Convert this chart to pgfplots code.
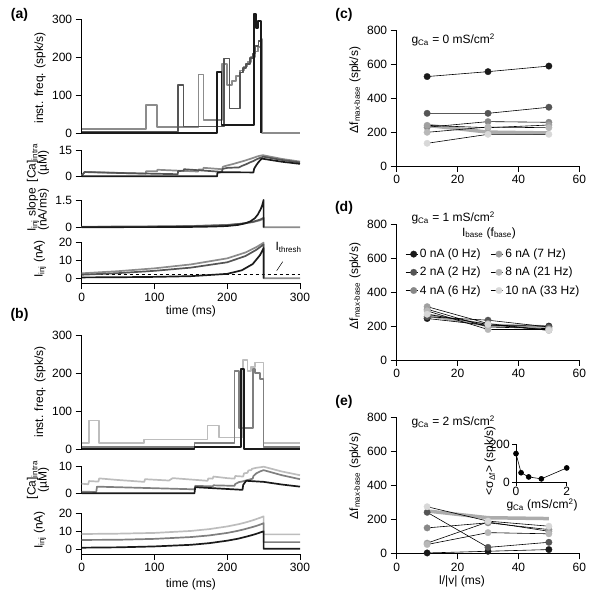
\documentclass[border=0pt]{standalone}
\usepackage{fontspec}
\setmainfont{Liberation Sans}
\usepackage{pgfplots}
\pgfplotsset{compat=1.18}
\definecolor{cK}{HTML}{1A1A1A}
\definecolor{cD}{HTML}{555555}
\definecolor{cL}{HTML}{8C8C8C}
\definecolor{bD}{HTML}{7F7F7F}
\definecolor{bL}{HTML}{BDBDBD}
\definecolor{s0}{HTML}{1A1A1A}
\definecolor{s2}{HTML}{555555}
\definecolor{s4}{HTML}{888888}
\definecolor{s6}{HTML}{A0A0A0}
\definecolor{s8}{HTML}{B8B8B8}
\definecolor{s10}{HTML}{D8D8D8}
\newcommand\fs{\fontsize{12}{14}\selectfont}
\pgfplotsset{
  base/.style={scale only axis, clip=false, anchor=south west,
    tick align=outside, major tick length=6pt,
    tick style={black, line width=0.6pt}, axis line style={line width=0.6pt},
    tick label style={font=\fs}, /pgf/number format/assume math mode=true},
  trace/.style={base, xmin=0, xmax=300, axis x line=none, axis y line*=left},
  tr/.style={line width=1.7pt, line join=round},
  dots/.style={black, line width=0.6pt, mark=*, mark size=3.3pt,
    mark options={draw=#1, fill=#1, line width=0.2pt}},
  flat/.style={gray!65, line width=3.5pt},
  rp/.style={base, axis lines*=left, xmin=0, xmax=60, ymin=0, ymax=800,
    xtick={0,20,40,60}, ytick={0,200,400,600,800}, width=182.6pt, height=135.5pt},
}
\begin{document}
\begin{tikzpicture}[x=1pt,y=1pt]
\useasboundingbox (0,0) rectangle (600,594);

% ---- (a) ----
\begin{axis}[trace, at={(81.7pt,460.7pt)}, width=218.3pt, height=114pt,
  ymin=0, ymax=300, ytick={0,100,200,300}]
\addplot[const plot, tr, cL] coordinates {(0,11)(88.5,75)(103.5,17)(160.5,155)(167.5,35)(193,182)(200,127)(207,137)(212,150)(218,165)(223,176)(228,188)(233,200)(238,215)(242,228)(246,248)(248,0)(300,0)};
\addplot[const plot, tr, cD] coordinates {(0,5)(132,128)(140,18)(195.5,197)(203,65)(218,160)(222,172)(226,182)(231,198)(235,210)(239,230)(243,242)(247,0)};
\addplot[const plot, tr, cK] coordinates {(0,0)(186.4,162)(192,22)(236.4,314)(239.6,278)(242,296)(246.5,0)};
\end{axis}

\begin{axis}[trace, at={(81.7pt,417.3pt)}, width=218.3pt, height=26.7pt,
  ymin=0, ymax=15, ytick={0,15}]
\addplot[tr, cL] coordinates {(0,0.5)(4,2.7)(88,1.7)(88.5,3.1)(103.5,3)(104,3.9)(160,2.9)(160.5,4.1)(167,4.0)(167.5,5.0)(193,4.2)(194,5.6)(200,6.3)(207,7.0)(212,7.6)(218,8.3)(224,9.0)(230,9.8)(236,10.6)(240,11.2)(244,11.7)(248,12)(250,12)(275,10)(300,8.5)};
\addplot[tr, cD] coordinates {(0,0.5)(4,2.6)(60,2.0)(132,1.4)(132.5,3.2)(140,3.3)(140.5,4.2)(193,2.7)(193.5,4.4)(201,5)(216,5.2)(221,6.2)(226,7)(231,8)(236,8.8)(240,9.7)(244,10.4)(248,11)(250,11.2)(275,9.4)(300,8.0)};
\addplot[tr, cK] coordinates {(0,0.3)(186,0.2)(186.5,2.2)(192,2.5)(236,2.4)(237,4.5)(240,6.5)(243,8.2)(247,10)(250,10)(275,8.4)(300,7.2)};
\end{axis}

\begin{axis}[trace, at={(81.7pt,366.7pt)}, width=218.3pt, height=27.3pt,
  ymin=0, ymax=1.5, ytick={0,1.5}]
\addplot[tr, cL] coordinates {(0,0.03)(100,0.05)(150,0.07)(200,0.13)(220,0.2)(235,0.28)(245,0.38)(250,0.48)(250,0)(300,0)};
\addplot[tr, cD] coordinates {(0,0.02)(100,0.04)(150,0.06)(200,0.12)(220,0.2)(235,0.3)(245,0.42)(250,0.52)(250,0)};
\addplot[tr, cK] coordinates {(0,0.005)(100,0.01)(150,0.02)(180,0.04)(200,0.07)(215,0.13)(225,0.22)(232,0.33)(238,0.5)(242,0.7)(246,1.0)(248,1.2)(250,1.5)(250,0)};
\end{axis}

\begin{axis}[base, axis lines*=left, at={(81.7pt,310.7pt)}, width=218.3pt, height=40.6pt,
  xmin=0, xmax=300, ymin=-2.8, ymax=20, xtick={0,100,200,300}, ytick={0,10,20}]
\addplot[black, dashed, line width=0.6pt] coordinates {(0,2.2)(300,2.2)};
\addplot[tr, cL] coordinates {(0,2.8)(50,4)(100,5.6)(150,7.8)(200,11.2)(225,14.5)(240,17.5)(250,20)(250,0)(300,0)};
\addplot[tr, cD] coordinates {(0,2)(50,2.9)(100,4.2)(150,6)(200,9)(225,12.5)(240,16)(250,19)(250,0)};
\addplot[tr, cK] coordinates {(0,0.5)(50,0.6)(100,0.8)(150,1.2)(200,2.5)(220,4.5)(235,8)(245,13)(250,17)(250,0)};
\end{axis}

% ---- (b) ----
\begin{axis}[trace, at={(81.7pt,145pt)}, width=218.3pt, height=114pt,
  ymin=0, ymax=300, ytick={0,100,200,300}]
\addplot[const plot, tr, bL] coordinates {(0,15)(10,75)(24,15)(86,25)(173,62)(189,30)(222,235)(228,205)(233,215)(238,228)(250,15)(300,15)};
\addplot[const plot, tr, bD] coordinates {(0,5)(155,15)(210,205)(216,55)(235,210)(238,200)(245,185)(250,5)(300,5)};
\addplot[const plot, tr, cK] coordinates {(0,0)(155,5)(219,210)(223,0)(300,0)};
\end{axis}

\begin{axis}[trace, at={(81.7pt,100.7pt)}, width=218.3pt, height=26.6pt,
  ymin=0, ymax=10, ytick={0,10}]
\addplot[tr, bL] coordinates {(0,3.6)(9,3.4)(10,4.6)(23,4.4)(24,5.6)(50,5.0)(86,4.3)(87,5.3)(120,4.8)(125,5.7)(173,4.7)(174,5.6)(180,5.5)(181,6.3)(200,5.7)(210,5.5)(211,6.5)(222,6.3)(223,7.5)(228,7.7)(229,8.6)(233,8.7)(234,9.2)(240,9.6)(246,9.8)(250,10)(275,8.2)(300,6.8)};
\addplot[tr, bD] coordinates {(0,0.6)(20,0.5)(21,2.5)(155,1.5)(156,2.8)(180,2.6)(181,3.0)(210,2.8)(211,3.5)(216,4.2)(220,4.4)(235,5.5)(236,6.5)(240,7.5)(245,8.2)(250,8.7)(275,6.8)(300,5.3)};
\addplot[tr, cK] coordinates {(0,0)(155,0)(156,2.3)(221,1.3)(222,3.2)(226,4.7)(250,4.3)(275,3.3)(300,2.5)};
\end{axis}

\begin{axis}[base, axis lines*=left, at={(81.7pt,40pt)}, width=218.3pt, height=40.7pt,
  xmin=0, xmax=300, ymin=-2.6, ymax=20, xtick={0,100,200,300}, ytick={0,10,20}]
\addplot[tr, bL] coordinates {(0,8.5)(50,8.7)(100,9.1)(150,10.2)(175,11.2)(200,12.7)(215,13.9)(225,14.9)(235,16.1)(240,16.8)(245,17.5)(250,18.3)(250,8.3)(300,8.3)};
\addplot[tr, bD] coordinates {(0,5.2)(50,5.3)(100,5.8)(150,6.8)(175,7.7)(200,9.1)(215,10.3)(225,11.3)(235,12.4)(240,13.0)(245,13.7)(250,14.5)(250,4)(300,4)};
\addplot[tr, cK] coordinates {(0,0.9)(50,1.1)(100,1.6)(150,2.5)(175,3.4)(200,4.8)(215,5.9)(225,6.9)(235,8.0)(240,8.6)(245,9.3)(250,10)(250,0.3)(300,0.3)};
\end{axis}

% ---- (c) ----
\begin{axis}[rp, at={(396.7pt,428pt)}]
\addplot[flat] coordinates {(10,240)(30,200)(50,195)};
\addplot[dots=s0] coordinates {(10,528)(30,557)(50,590)};
\addplot[dots=s2] coordinates {(10,311)(30,311)(50,347)};
\addplot[dots=s4] coordinates {(10,229)(30,262)(50,258)};
\addplot[dots=s6] coordinates {(10,240)(30,226)(50,242)};
\addplot[dots=s8] coordinates {(10,199)(30,230)(50,226)};
\addplot[dots=s10] coordinates {(10,134)(30,187)(50,187)};
\end{axis}

% ---- (d) ----
\begin{axis}[rp, at={(396.7pt,234pt)},
  legend columns=2,
  legend style={at={(axis description cs:0.03,0.85)}, anchor=north west, draw=none, fill=none,
    font=\fs, row sep=4pt, /tikz/every even column/.append style={column sep=8pt}},
  legend cell align=left,
  legend image code/.code={\draw[mark repeat=2, mark phase=2, #1] plot coordinates {(0pt,0pt)(8pt,0pt)(12pt,0pt)};}]
\addplot[flat, forget plot] coordinates {(10,265)(30,205)(50,195)};
\addplot[dots=s0, forget plot] coordinates {(10,245)(30,205)(50,200)};
\addplot[dots=s2, forget plot] coordinates {(10,255)(30,235)(50,195)};
\addplot[dots=s4, forget plot] coordinates {(10,300)(30,195)(50,185)};
\addplot[dots=s6, forget plot] coordinates {(10,315)(30,215)(50,175)};
\addplot[dots=s8, forget plot] coordinates {(10,290)(30,180)(50,180)};
\addplot[dots=s10, forget plot] coordinates {(10,270)(30,210)(50,175)};
\addlegendimage{dots=s0}\addlegendentry{0 nA (0 Hz)}
\addlegendimage{dots=s6}\addlegendentry{6 nA (7 Hz)}
\addlegendimage{dots=s2}\addlegendentry{2 nA (2 Hz)}
\addlegendimage{dots=s8}\addlegendentry{8 nA (21 Hz)}
\addlegendimage{dots=s4}\addlegendentry{4 nA (6 Hz)}
\addlegendimage{dots=s10}\addlegendentry{10 nA (33 Hz)}
\end{axis}

% ---- (e) ----
\begin{axis}[rp, at={(396.7pt,40.7pt)}]
\addplot[flat] coordinates {(10,250)(30,210)(50,205)};
\addplot[dots=s0] coordinates {(10,2)(30,12)(50,22)};
\addplot[dots=s2] coordinates {(10,242)(30,35)(50,65)};
\addplot[dots=s4] coordinates {(10,150)(30,180)(50,140)};
\addplot[dots=s6] coordinates {(10,60)(30,185)(50,130)};
\addplot[dots=s8] coordinates {(10,52)(30,122)(50,115)};
\addplot[dots=s10] coordinates {(10,275)(30,190)(50,160)};
\end{axis}

\begin{axis}[base, axis lines*=left, at={(516pt,111.7pt)}, width=50.7pt, height=38.3pt,
  xmin=0, xmax=2, ymin=0, ymax=200, xtick={0,2}, ytick={0,200}, major tick length=4pt,
  xticklabel style={inner sep=1pt}, yticklabel style={inner sep=2pt}]
\addplot[black, line width=0.6pt, mark=*, mark size=2.5pt] coordinates {(0,150)(0.2,50)(0.5,28)(1,18)(2,75)};
\end{axis}

% ---- labels ----
\begin{scope}[font=\fs]
\node[font=\bfseries\fontsize{14}{16}\selectfont] at (19.5,579) {(a)};
\node[font=\bfseries\fontsize{14}{16}\selectfont] at (19.5,279) {(b)};
\node[font=\bfseries\fontsize{14}{16}\selectfont] at (344,579) {(c)};
\node[font=\bfseries\fontsize{14}{16}\selectfont] at (344,386) {(d)};
\node[font=\bfseries\fontsize{14}{16}\selectfont] at (344,192) {(e)};
\node[rotate=90] at (40,516) {inst. freq. (spk/s)};
\node[rotate=90, align=center, inner sep=0pt] at (38,431) {[Ca]\textsubscript{intra}\\[-3pt](µM)};
\node[rotate=90, align=center, inner sep=0pt] at (38,384) {I\textsubscript{inj} slope\\[-3pt](nA/ms)};
\node[rotate=90] at (40,335) {I\textsubscript{inj} (nA)};
\node at (190.8,282.3) {time (ms)};
\node[rotate=90] at (40,202) {inst. freq. (spk/s)};
\node[rotate=90, align=center, inner sep=0pt] at (38,114) {[Ca]\textsubscript{intra}\\[-3pt](µM)};
\node[rotate=90] at (40,64) {I\textsubscript{inj} (nA)};
\node at (190.8,10) {time (ms)};
\node[anchor=west] at (272,346.7) {I\textsubscript{thresh}};
\draw[line width=0.5pt] (282.7,332.3) -- (276.7,323.3);
\node[rotate=90] at (355,504) {Δf\textsubscript{max-base} (spk/s)};
\node[rotate=90] at (355,308) {Δf\textsubscript{max-base} (spk/s)};
\node[rotate=90] at (355,118) {Δf\textsubscript{max-base} (spk/s)};
\node at (462,12.3) {l/|v| (ms)};
\node[anchor=west] at (408,554) {g\textsubscript{Ca} = 0 mS/cm\textsuperscript{2}};
\node[anchor=west] at (408,376) {g\textsubscript{Ca} = 1 mS/cm\textsuperscript{2}};
\node[anchor=west] at (408,172.3) {g\textsubscript{Ca} = 2 mS/cm\textsuperscript{2}};
\node at (489,361) {I\textsubscript{base} (f\textsubscript{base})};
\node[rotate=90] at (490,133) {<σ\textsubscript{Δf}> (spk/s)};
\node at (542,89) {g\textsubscript{Ca} (mS/cm\textsuperscript{2})};
\end{scope}
\end{tikzpicture}
\end{document}
